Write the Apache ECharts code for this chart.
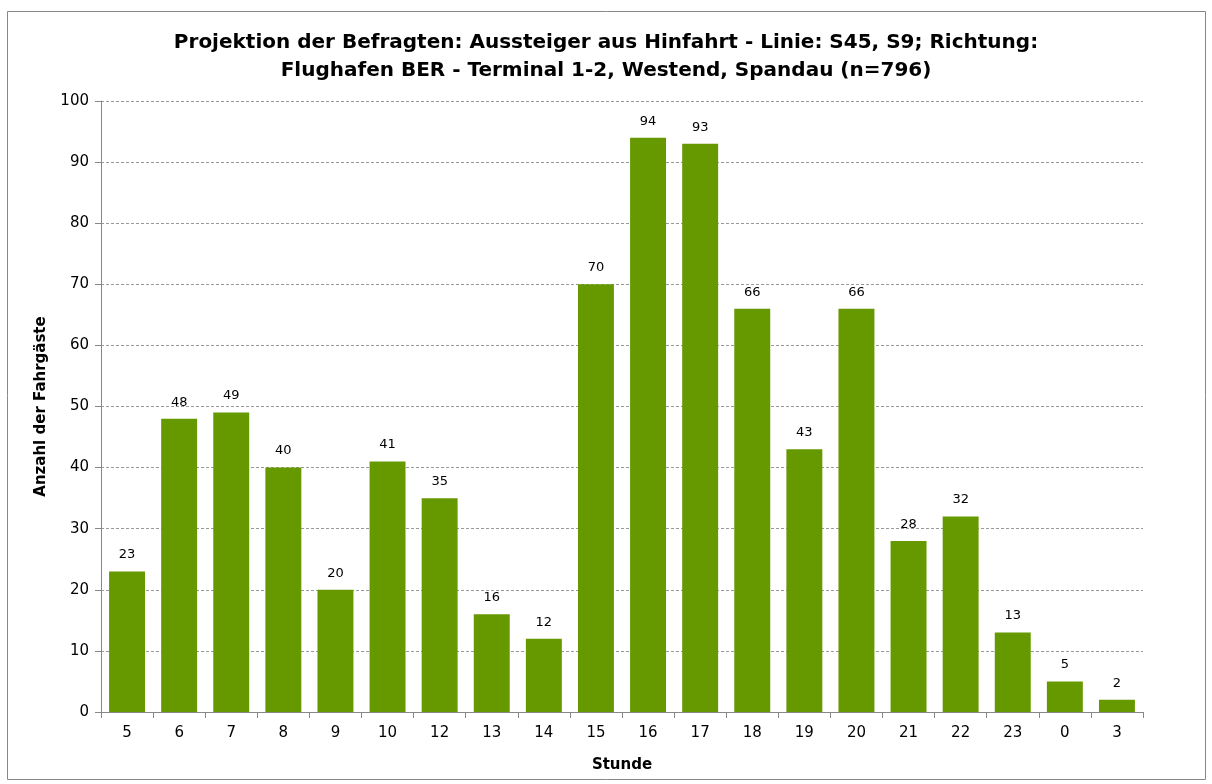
<!DOCTYPE html>
<html><head><meta charset="utf-8">
<script src="https://cdn.jsdelivr.net/npm/echarts@6/dist/echarts.min.js"></script>
<style>html,body{margin:0;padding:0;background:#fff}#c{width:1212px;height:784px}</style>
</head><body><div id="c"></div>
<script>
const categories = ['5','6','7','8','9','10','12','13','14','15','16','17','18','19','20','21','22','23','0','3'];
const values = [23,48,49,40,20,41,35,16,12,70,94,93,66,43,66,28,32,13,5,2];
const titleText = 'Projektion der Befragten: Aussteiger aus Hinfahrt - Linie: S45, S9; Richtung:\nFlughafen BER - Terminal 1-2, Westend, Spandau (n=796)';
const yName = 'Anzahl der Fahrgäste';
const xName = 'Stunde';

const chart = echarts.init(document.getElementById('c'), null, {renderer:'canvas'});
const font = 'DejaVu Sans';
chart.setOption({
  backgroundColor:'#fff',
  graphic:[{type:'rect', shape:{x:7.5,y:11.5,width:1198,height:768}, style:{fill:'none',stroke:'#888',lineWidth:1}, silent:true}],
  title:{text:titleText, left:'center', top:24, textStyle:{fontFamily:font, fontWeight:'bold', fontSize:20, color:'#000', lineHeight:28}},
  grid:{left:101, right:69, top:101, bottom:72, containLabel:false},
  xAxis:{type:'category', data:categories, name:xName, nameLocation:'middle', nameGap:46,
    nameTextStyle:{fontFamily:font, fontWeight:'bold', fontSize:15, color:'#000'},
    axisLine:{lineStyle:{color:'#888'}}, axisTick:{show:true, alignWithLabel:false, length:6, lineStyle:{color:'#888'}},
    axisLabel:{fontFamily:font, fontSize:15, color:'#000', margin:14}},
  yAxis:{type:'value', min:0, max:100, interval:10, name:yName, nameLocation:'middle', nameGap:52,
    nameTextStyle:{fontFamily:font, fontWeight:'bold', fontSize:15, color:'#000'},
    axisLine:{show:true, lineStyle:{color:'#888'}}, axisTick:{show:true, length:6, lineStyle:{color:'#888'}},
    axisLabel:{fontFamily:font, fontSize:15, color:'#000', margin:12},
    splitLine:{lineStyle:{color:'#999', type:[3,2], width:1}}},
  series:[{type:'bar', data:values, barCategoryGap:'31%', itemStyle:{color:'#669900'},
    label:{show:true, position:'top', distance:10, fontFamily:font, fontSize:13, color:'#000'}}],
  animation:false
});
</script></body></html>
